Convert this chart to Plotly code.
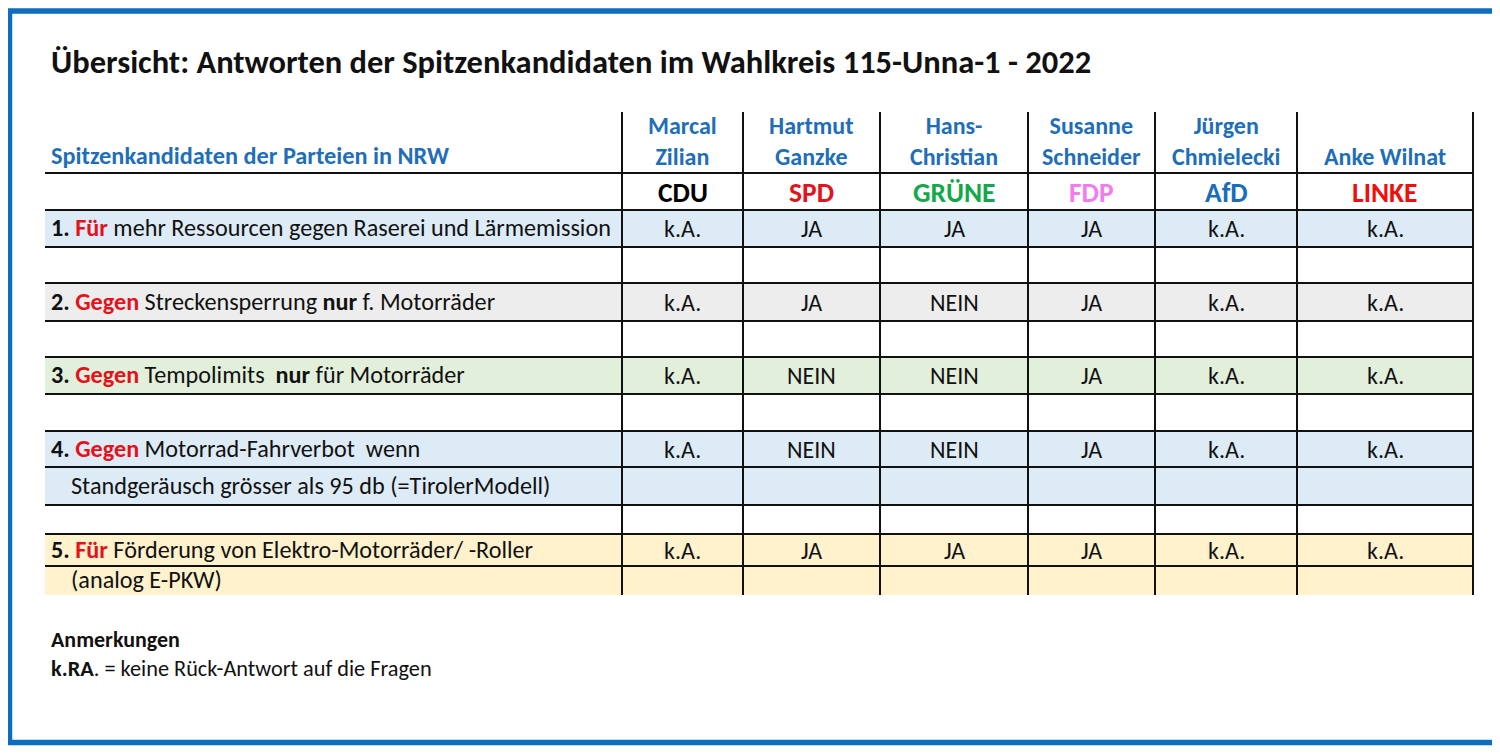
import plotly.graph_objects as go

# --- data ---
title = "Übersicht: Antworten der Spitzenkandidaten im Wahlkreis 115-Unna-1 - 2022"
row_header = "Spitzenkandidaten der Parteien in NRW"
candidates = ["Marcal<br>Zilian", "Hartmut<br>Ganzke", "Hans-<br>Christian",
              "Susanne<br>Schneider", "Jürgen<br>Chmielecki", "Anke Wilnat"]
parties = ["CDU", "SPD", "GRÜNE", "FDP", "AfD", "LINKE"]
party_colors = ["#000000", "#E3121B", "#13A84A", "#F07CF0", "#1A6DB8", "#EE0F0F"]

q_numbers = ["1.", "2.", "3.", "4.", "5."]
q_keywords = ["Für", "Gegen", "Gegen", "Gegen", "Für"]
q_texts = [
    "mehr Ressourcen gegen Raserei und Lärmemission",
    "Streckensperrung <b>nur</b> f. Motorräder",
    "Tempolimits  <b>nur</b> für Motorräder",
    "Motorrad-Fahrverbot  wenn",
    "Förderung von Elektro-Motorräder/ -Roller",
]
q_second_lines = [None, None, None,
                  "Standgeräusch grösser als 95 db (=TirolerModell)",
                  "(analog E-PKW)"]
answers = [
    ["k.A.", "JA", "JA", "JA", "k.A.", "k.A."],
    ["k.A.", "JA", "NEIN", "JA", "k.A.", "k.A."],
    ["k.A.", "NEIN", "NEIN", "JA", "k.A.", "k.A."],
    ["k.A.", "NEIN", "NEIN", "JA", "k.A.", "k.A."],
    ["k.A.", "JA", "JA", "JA", "k.A.", "k.A."],
]
note_title = "Anmerkungen"
note_text = "<b>k.RA</b>. = keine Rück-Antwort auf die Fragen"

# --- layout geometry (pixels of the final screenshot) ---
W, H = 1500, 754
OFF = 8  # page body margin, compensated in the axis ranges
FONT = "Carlito, Lato, sans-serif"
BLUE = "#1F6EB8"
left, right = 45, 1473
col_edges = [622, 743, 880, 1028, 1155, 1297, 1473]
header_top = 112
q_rows = [(210, 247), (283, 321), (357, 394), (431, 467), (534, 566)]
q_rows2 = [None, None, None, (467, 505), (566, 595)]
q_fills = ["#DDEBF7", "#EDEDED", "#E2EFDA", "#DDEBF7", "#FFF2CC"]
h_lines = [173, 210, 247, 283, 321, 357, 394, 431, 467, 505, 534, 566]
table_bottom = 595

shapes = []
annotations = []

# frame
shapes.append(dict(type="rect", x0=9.5, y0=11, x1=1495, y1=742.5,
                   line=dict(color="#0D6EC0", width=5.5), fillcolor="rgba(0,0,0,0)"))

# row fills
for (top, bot), second, fill in zip(q_rows, q_rows2, q_fills):
    end = second[1] if second else bot
    shapes.append(dict(type="rect", x0=left, x1=right, y0=top, y1=end,
                       fillcolor=fill, line=dict(width=0), layer="below"))

# grid lines
for y in h_lines:
    shapes.append(dict(type="line", x0=left, x1=right, y0=y, y1=y,
                       line=dict(color="#111111", width=2)))
for x in col_edges:
    shapes.append(dict(type="line", x0=x, x1=x, y0=header_top, y1=table_bottom,
                       line=dict(color="#111111", width=2)))


def text(x, y, s, size=24, color="#111111", anchor="left", bold=False):
    if bold:
        s = "<b>" + s + "</b>"
    annotations.append(dict(x=x, y=y, xref="x", yref="y", text=s, showarrow=False,
                            xanchor=anchor, yanchor="middle", align="center",
                            font=dict(family=FONT, size=size, color=color)))


# title
text(49, 62, title, size=32.5, bold=True)

# header
text(49, 156, row_header, size=24.3, color=BLUE, bold=True)
centers = [(a + b) / 2 for a, b in zip(col_edges[:-1], col_edges[1:])]
for cx, name in zip(centers, candidates):
    y = 140.5 if "<br>" in name else 156
    text(cx, y, name, size=24, color=BLUE, anchor="center", bold=True)
for cx, p, c in zip(centers, parties, party_colors):
    text(cx, 192, p, size=27.5, color=c, anchor="center", bold=True)

# questions
for i in range(len(q_numbers)):
    top, bot = q_rows[i]
    yc = (top + bot) / 2 - 1
    label = ("<b>" + q_numbers[i] + " </b><span style='color:#E3121B'><b>"
             + q_keywords[i] + "</b></span> " + q_texts[i])
    text(49, yc, label, size=24.2)
    if q_second_lines[i]:
        t2, b2 = q_rows2[i]
        text(69, (t2 + b2) / 2 - 1, q_second_lines[i], size=24.2)
    for cx, a in zip(centers, answers[i]):
        text(cx, yc + 1, a, size=24, anchor="center")

# notes
text(49, 639, note_title, size=22, bold=True)
text(49, 668, note_text, size=22.3)

fig = go.Figure()
fig.update_layout(
    width=W - OFF, height=H - OFF,
    margin=dict(l=0, r=0, t=0, b=0),
    paper_bgcolor="white", plot_bgcolor="white",
    xaxis=dict(range=[OFF, W], visible=False, fixedrange=True),
    yaxis=dict(range=[H, OFF], visible=False, fixedrange=True),
    shapes=shapes, annotations=annotations, showlegend=False,
)
fig.write_html("out.html")
